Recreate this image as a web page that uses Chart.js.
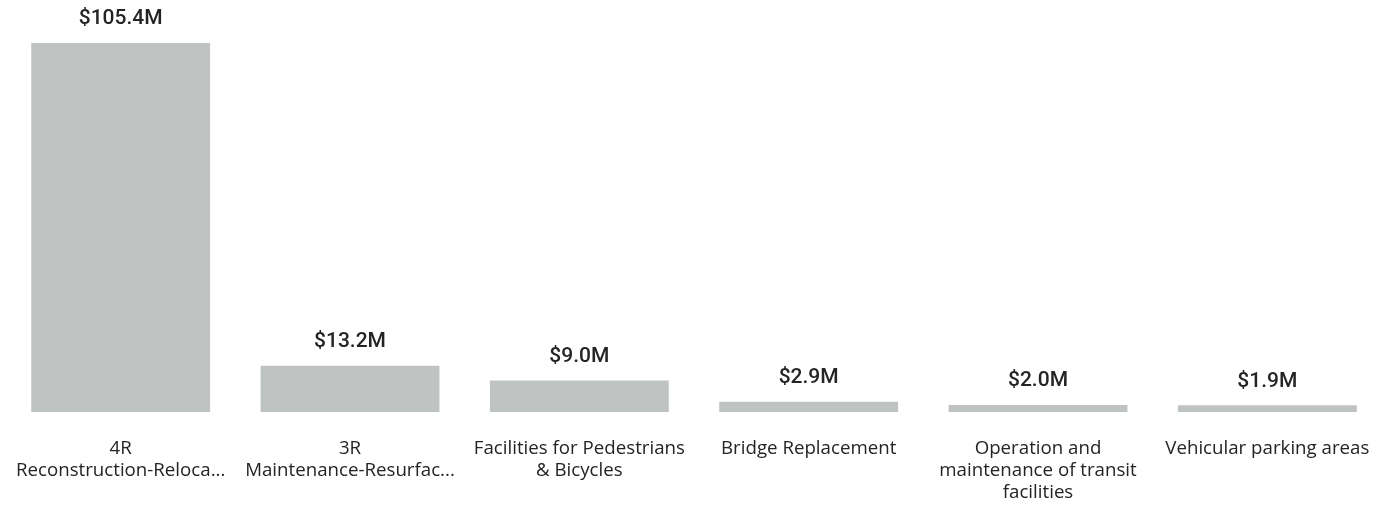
<!DOCTYPE html>
<html><head><meta charset="utf-8">
<script src="https://cdn.jsdelivr.net/npm/chart.js@4"></script>
<style>html,body{margin:0;padding:0;background:#fff;}#wrap{width:1382px;height:513px;position:relative;}</style>
</head><body><div id="wrap"><canvas id="c"></canvas></div>
<script>
const categories = [
  ["4R", "Reconstruction-Reloca..."],
  ["3R", "Maintenance-Resurfac..."],
  ["Facilities for Pedestrians", "& Bicycles"],
  ["Bridge Replacement"],
  ["Operation and", "maintenance of transit", "facilities"],
  ["Vehicular parking areas"]
];
const values = [105.4, 13.2, 9.0, 2.9, 2.0, 1.9];
const valueLabels = ["$105.4M", "$13.2M", "$9.0M", "$2.9M", "$2.0M", "$1.9M"];

const valuePlugin = {
  id: 'valueLabels',
  afterDatasetsDraw(chart) {
    const ctx = chart.ctx;
    const meta = chart.getDatasetMeta(0);
    ctx.save();
    ctx.font = '500 21px "Roboto", sans-serif';
    ctx.fillStyle = '#252423';
    ctx.textAlign = 'center';
    ctx.textBaseline = 'middle';
    meta.data.forEach((bar, i) => {
      ctx.fillText(valueLabels[i], bar.x, bar.y - 24);
    });
    ctx.restore();
  }
};

new Chart(document.getElementById('c'), {
  type: 'bar',
  data: {
    labels: categories,
    datasets: [{
      data: values,
      backgroundColor: '#BFC4C3',
      categoryPercentage: 1,
      barPercentage: 0.78
    }]
  },
  options: {
    responsive: true,
    maintainAspectRatio: false,
    animation: false,
    layout: { padding: { left: 6, right: 0, top: 43, bottom: 0 } },
    plugins: { legend: { display: false }, tooltip: { enabled: false } },
    scales: {
      x: {
        grid: { display: false, drawTicks: false },
        border: { display: false },
        afterFit(scale) { scale.height = 101; scale.paddingLeft = 0; scale.paddingRight = 0; },
        ticks: {
          color: '#252423',
          font: { family: '"Open Sans", "Noto Sans", sans-serif', size: 18.7, lineHeight: 1.18 },
          padding: 26,
          maxRotation: 0,
          autoSkip: false
        }
      },
      y: {
        display: false,
        min: 0,
        max: 105.4
      }
    }
  },
  plugins: [valuePlugin]
});
</script></body></html>
